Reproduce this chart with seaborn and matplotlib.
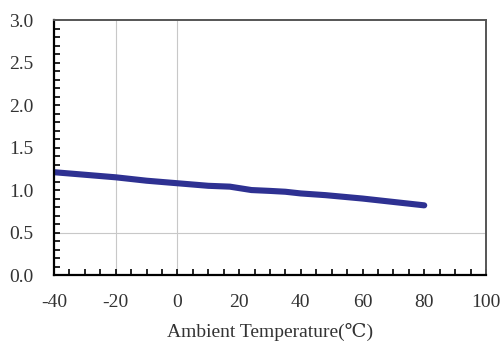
import matplotlib
matplotlib.use("Agg")
import matplotlib.pyplot as plt
import seaborn as sns
import pandas as pd
from matplotlib.ticker import MultipleLocator

# Data
temps = [-40, -30, -20, -10, 0, 10, 17, 24, 30, 35, 40, 48, 60, 70, 80]
ratio = [1.21, 1.18, 1.15, 1.11, 1.08, 1.05, 1.04, 1.00, 0.99, 0.98, 0.96, 0.94, 0.90, 0.86, 0.82]
x_ticks = [-40, -20, 0, 20, 40, 60, 80, 100]
y_ticks = [0.0, 0.5, 1.0, 1.5, 2.0, 2.5, 3.0]

df = pd.DataFrame({"temp": temps, "ratio": ratio})

sns.set_style("white")
plt.rcParams['font.family'] = ['Liberation Serif', 'DejaVu Serif']

fig = plt.figure(figsize=(5.02, 3.41), dpi=100)
ax = fig.add_axes([0.1076, 0.1935, 0.8604, 0.7475])

# only a few light grid lines, as in the original
for gx in [-20, 0]:
    ax.axvline(gx, color="#c8c8c8", lw=0.8, zorder=0)
ax.axhline(0.5, color="#c8c8c8", lw=0.8, zorder=0)

sns.lineplot(data=df, x="temp", y="ratio", ax=ax, color="#2e3192", lw=4.4,
             solid_capstyle="round")

ax.set_xlim(-40, 100)
ax.set_ylim(0, 3.0)
ax.set_xticks(x_ticks)
ax.set_yticks(y_ticks)
ax.set_xticklabels([str(t) for t in x_ticks])
ax.set_yticklabels([f"{t:.1f}" for t in y_ticks])
ax.xaxis.set_minor_locator(MultipleLocator(5))
ax.yaxis.set_minor_locator(MultipleLocator(0.1))
ax.tick_params(axis="both", which="both", direction="in", color="black",
               width=1.2, labelsize=14, labelcolor="#333333",
               bottom=True, left=True, top=False, right=False)
ax.tick_params(axis="both", which="both", length=4.5)
ax.tick_params(axis="y", which="both", pad=15)
ax.tick_params(axis="x", which="both", pad=14)

ax.set_xlabel("Ambient Temperature(℃)", fontsize=14, color="#333333", labelpad=8)
ax.set_ylabel("")

for side in ["left", "bottom"]:
    ax.spines[side].set_color("black")
    ax.spines[side].set_linewidth(1.6)
for side in ["top", "right"]:
    ax.spines[side].set_visible(True)
    ax.spines[side].set_color("#555555")
    ax.spines[side].set_linewidth(1.4)

fig.savefig("out.png", dpi=100)
